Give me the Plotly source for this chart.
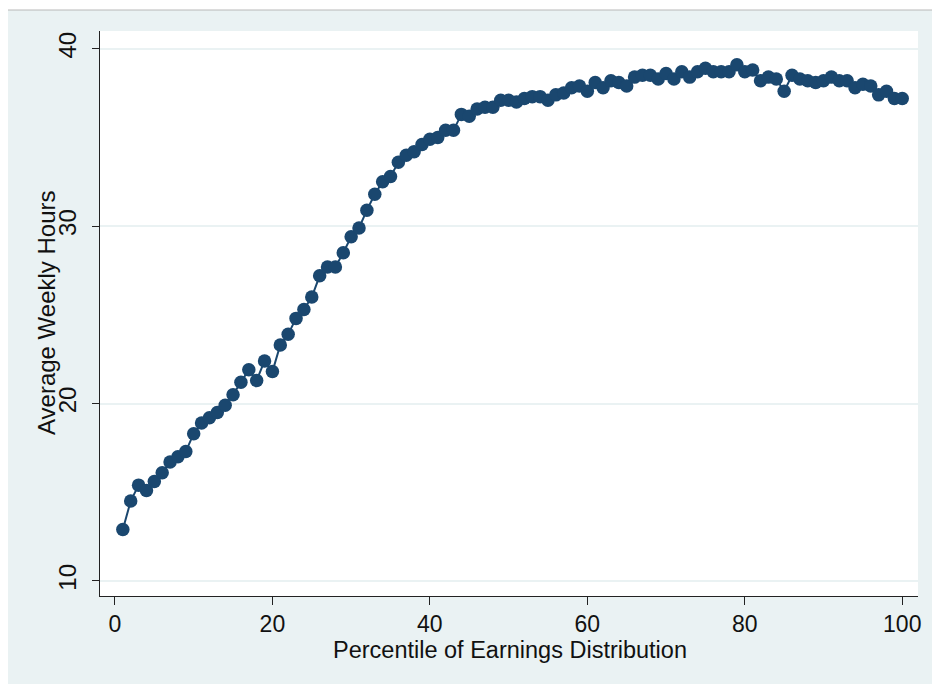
import plotly.graph_objects as go

percentile = list(range(1, 101))
hours = [
    12.9, 14.5, 15.4, 15.1, 15.6, 16.1, 16.7, 17.0, 17.3, 18.3,
    18.9, 19.2, 19.5, 19.9, 20.5, 21.2, 21.9, 21.3, 22.4, 21.8,
    23.3, 23.9, 24.8, 25.3, 26.0, 27.2, 27.7, 27.7, 28.5, 29.4,
    29.9, 30.9, 31.8, 32.5, 32.8, 33.6, 34.0, 34.2, 34.6, 34.9,
    35.0, 35.4, 35.4, 36.3, 36.2, 36.6, 36.7, 36.7, 37.1, 37.1,
    37.0, 37.2, 37.3, 37.3, 37.1, 37.4, 37.5, 37.8, 37.9, 37.6,
    38.1, 37.8, 38.2, 38.1, 37.9, 38.4, 38.5, 38.5, 38.3, 38.6,
    38.3, 38.7, 38.4, 38.7, 38.9, 38.7, 38.7, 38.7, 39.1, 38.7,
    38.8, 38.2, 38.4, 38.3, 37.6, 38.5, 38.3, 38.2, 38.1, 38.2,
    38.4, 38.2, 38.2, 37.8, 38.0, 37.9, 37.4, 37.6, 37.2, 37.2,
]
x_ticks = [0, 20, 40, 60, 80, 100]
y_ticks = [10, 20, 30, 40]
x_title = "Percentile of Earnings Distribution"
y_title = "Average Weekly Hours"

NAVY = "#1a476f"
BG = "#eaf2f3"
FONT = "Liberation Sans, Arial, sans-serif"

# page body has an 8px margin: figure origin sits at page (8, 8)
OFF = 8
W, H = 940 - OFF, 684 - OFF
# desired plot area in page px: x 100..918, y 31..596
L, T = 100 - OFF, 31 - OFF
pw, ph = 818, 565
R = W - L - pw
B = H - T - ph

def px_x(p):
    return (p - OFF - L) / pw

def px_y(p):
    return (T + ph - (p - OFF)) / ph

fig = go.Figure()
fig.add_trace(go.Scatter(
    x=percentile, y=hours, mode="lines+markers",
    line=dict(color=NAVY, width=2),
    marker=dict(color=NAVY, size=13.5),
    showlegend=False,
))

fig.update_layout(
    width=W, height=H,
    margin=dict(l=L, r=R, t=T, b=B),
    paper_bgcolor="white",
    plot_bgcolor="white",
    font=dict(family=FONT, size=23, color="#111"),
    shapes=[
        dict(type="rect", xref="paper", yref="paper", layer="below",
             x0=px_x(4), x1=px_x(945), y0=px_y(690), y1=px_y(10),
             fillcolor=BG, line=dict(color="#b8b8b8", width=1)),
        dict(type="rect", xref="paper", yref="paper", layer="below",
             x0=0, x1=1, y0=0, y1=1, fillcolor="white", line=dict(width=0)),
    ],
    annotations=[
        dict(text=x_title, xref="paper", yref="paper",
             x=px_x(510), y=px_y(650), xanchor="center", yanchor="middle",
             showarrow=False, font=dict(size=23.5, color="#111")),
        dict(text=y_title, xref="paper", yref="paper", textangle=-90,
             x=px_x(46), y=px_y(313), xanchor="center", yanchor="middle",
             showarrow=False, font=dict(size=24, color="#111")),
    ],
)

fig.update_xaxes(
    range=[-1.9, 102.0], tickvals=x_ticks, ticktext=[str(v) for v in x_ticks],
    showgrid=False, zeroline=False,
    showline=True, linecolor="#222", linewidth=1.2,
    ticks="outside", ticklen=8, tickcolor="#222",
    tickfont=dict(size=23), ticklabelstandoff=-1,
)
fig.update_yaxes(
    range=[9.15, 41.0], tickvals=y_ticks, ticktext=[str(v) for v in y_ticks],
    showgrid=True, gridcolor=BG, gridwidth=1.5, zeroline=False,
    showline=True, linecolor="#222", linewidth=1.2,
    ticks="outside", ticklen=7, tickcolor="#222",
    tickangle=-90, tickfont=dict(size=24), ticklabelstandoff=6,
)

fig.write_html("out.html")
